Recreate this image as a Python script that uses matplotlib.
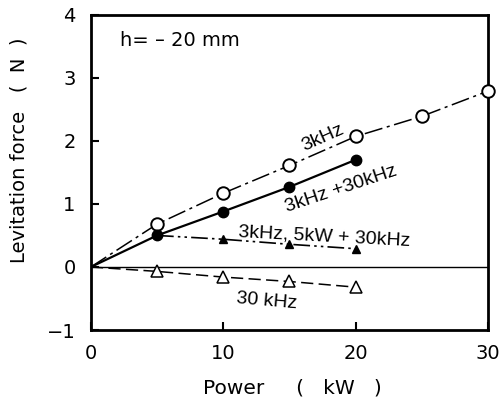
import matplotlib
matplotlib.use("Agg")
import matplotlib.pyplot as plt

power_3k = [0, 5, 10, 15, 20, 25, 30]
force_3k = [0, 0.68, 1.17, 1.61, 2.07, 2.39, 2.79]

power_mix = [0, 5, 10, 15, 20]
force_mix = [0, 0.50, 0.88, 1.27, 1.70]

power_5kw = [5, 10, 15, 20]
force_5kw = [0.50, 0.44, 0.36, 0.29]

power_30k = [0, 5, 10, 15, 20]
force_30k = [0, -0.07, -0.16, -0.23, -0.32]

xticks = [0, 10, 20, 30]
yticks = [-1, 0, 1, 2, 3, 4]

plt.rcParams['font.family'] = ['DejaVu Sans']

fig = plt.figure(figsize=(5.02, 4.01), dpi=100)
ax = fig.add_axes([0.181, 0.177, 0.791, 0.786])

ax.axhline(0, color='black', lw=1.0)

# 3 kHz: open circles, dash-dot
ax.plot(power_3k, force_3k, color='black', lw=1.1, dashes=[12, 3, 2, 3])
ax.plot(power_3k[1:], force_3k[1:], 'o', ms=9, mfc='white', mec='black', mew=1.4, clip_on=False, zorder=5)

# 3 kHz + 30 kHz: filled circles, solid
ax.plot(power_mix, force_mix, color='black', lw=1.6)
ax.plot(power_mix[1:], force_mix[1:], 'o', ms=7.5, color='black', zorder=5)

# 3kHz,5kW + 30kHz: filled triangles, dash-dot-dot
ax.plot(power_5kw, force_5kw, color='black', lw=1.2, dashes=[10, 2.5, 1.5, 2.5, 1.5, 2.5])
ax.plot(power_5kw[1:], force_5kw[1:], '^', ms=6, color='black', zorder=5)

# 30 kHz: open triangles, dashed
ax.plot(power_30k, force_30k, color='black', lw=1.1, dashes=[8, 3.5])
ax.plot(power_30k[1:], force_30k[1:], '^', ms=8, mfc='white', mec='black', mew=1.1, zorder=5)

ax.set_xlim(0, 30)
ax.set_ylim(-1, 4)
ax.set_xticks(xticks)
ax.set_yticks(yticks)
ax.set_xticklabels([str(t) for t in xticks])
ax.set_yticklabels(['\u22121' if t == -1 else str(t) for t in yticks])
ax.tick_params(direction='in', length=6, width=1.5, labelsize=14)
ax.tick_params(axis='x', pad=10)
ax.tick_params(axis='y', pad=11)
for s in ax.spines.values():
    s.set_linewidth(2.0)

ax.set_xlabel('Power     (   kW   )', fontsize=14.5)
ax.xaxis.set_label_coords(0.508, -0.155)
ax.set_ylabel('Levitation force   (  N  )', fontsize=14)
ax.yaxis.set_label_coords(-0.158, 0.571)

ax.text(2.2, 3.59, 'h= \u2013 20 mm', fontsize=14, va='center', ha='left')
ax.text(17.5, 2.05, '3kHz', fontsize=14, family='Liberation Sans', rotation=24, ha='center', va='center')
ax.text(18.9, 1.24, '3kHz +30kHz', fontsize=14, family='Liberation Sans', rotation=18.5, ha='center', va='center')
ax.text(17.6, 0.48, '3kHz, 5kW + 30kHz', fontsize=14, family='Liberation Sans', rotation=-3, ha='center', va='center')
ax.text(13.3, -0.54, '30 kHz', fontsize=14, family='Liberation Sans', rotation=-5, ha='center', va='center')

fig.savefig('out.png', dpi=100)
